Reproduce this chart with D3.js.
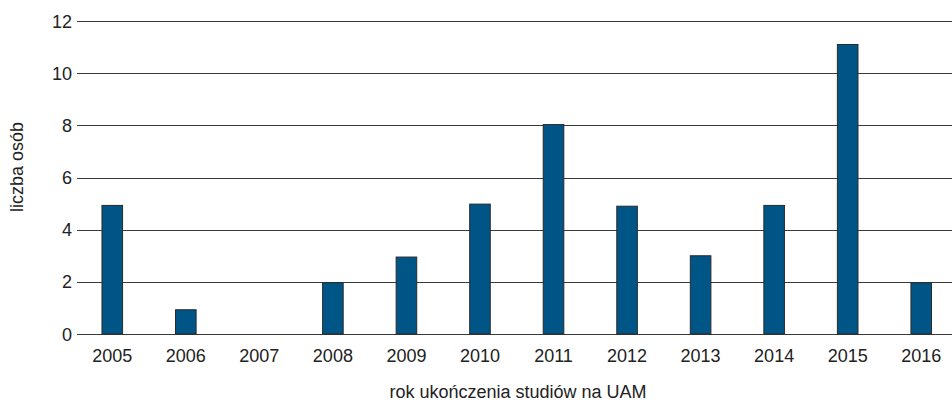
<!DOCTYPE html>
<html>
<head>
<meta charset="utf-8">
<script src="https://cdn.jsdelivr.net/npm/d3@7"></script>
<style>
  body { margin: 0; background: #fff; }
  #chart { width: 952px; height: 402px; }
  text { font-family: "Liberation Sans", Arial, sans-serif; fill: #222; }
</style>
</head>
<body>
<div id="chart"></div>
<script>
const years = ["2005","2006","2007","2008","2009","2010","2011","2012","2013","2014","2015","2016"];
const counts = [4.93, 0.93, 0, 1.97, 2.95, 4.98, 8.03, 4.9, 3.0, 4.93, 11.1, 1.96];
const yTicks = [0, 2, 4, 6, 8, 10, 12];

const width = 952;
const height = 402;
const margin = {top: 21, left: 75.5, right: -6, bottom: 68};

const svg = d3.select("#chart")
    .append("svg")
    .attr("width", width)
    .attr("height", height);

const xScale = d3.scaleBand()
    .domain(years)
    .range([margin.left, width - margin.right])
    .paddingInner(0.72)
    .paddingOuter(0.36);

const yScale = d3.scaleLinear()
    .domain([0, 12])
    .range([height - margin.bottom, margin.top]);

/* gridlines */
svg.append("g")
    .selectAll("line")
    .data(yTicks)
    .enter()
    .append("line")
    .attr("x1", 77)
    .attr("x2", width)
    .attr("y1", d => Math.round(yScale(d)) + 0.5)
    .attr("y2", d => Math.round(yScale(d)) + 0.5)
    .attr("stroke", "#3a3a3a")
    .attr("stroke-width", 1);

/* y tick labels */
svg.append("g")
    .selectAll("text")
    .data(yTicks)
    .enter()
    .append("text")
    .attr("x", 72)
    .attr("y", d => yScale(d) + 6.5)
    .attr("text-anchor", "end")
    .attr("font-size", "18px")
    .text(d => d);

/* bars */
svg.selectAll("rect.bar")
    .data(years.map((y, i) => ({year: y, value: counts[i]})))
    .enter()
    .append("rect")
    .attr("class", "bar")
    .attr("x", d => xScale(d.year))
    .attr("y", d => yScale(d.value))
    .attr("width", xScale.bandwidth())
    .attr("height", d => yScale(0) - yScale(d.value))
    .attr("fill", d => d.value > 0 ? "#005587" : "none")
    .attr("stroke", d => d.value > 0 ? "#2a2a2a" : "none")
    .attr("stroke-width", 1);

/* x tick labels */
svg.append("g")
    .selectAll("text")
    .data(years)
    .enter()
    .append("text")
    .attr("x", d => xScale(d) + xScale.bandwidth() / 2)
    .attr("y", 362)
    .attr("text-anchor", "middle")
    .attr("font-size", "18px")
    .text(d => d);

/* axis titles */
svg.append("text")
    .attr("x", 518)
    .attr("y", 398)
    .attr("text-anchor", "middle")
    .attr("font-size", "18px")
    .text("rok ukończenia studiów na UAM");

svg.append("text")
    .attr("transform", "translate(23,167) rotate(-90)")
    .attr("text-anchor", "middle")
    .attr("font-size", "18px")
    .text("liczba osób");
</script>
</body>
</html>
